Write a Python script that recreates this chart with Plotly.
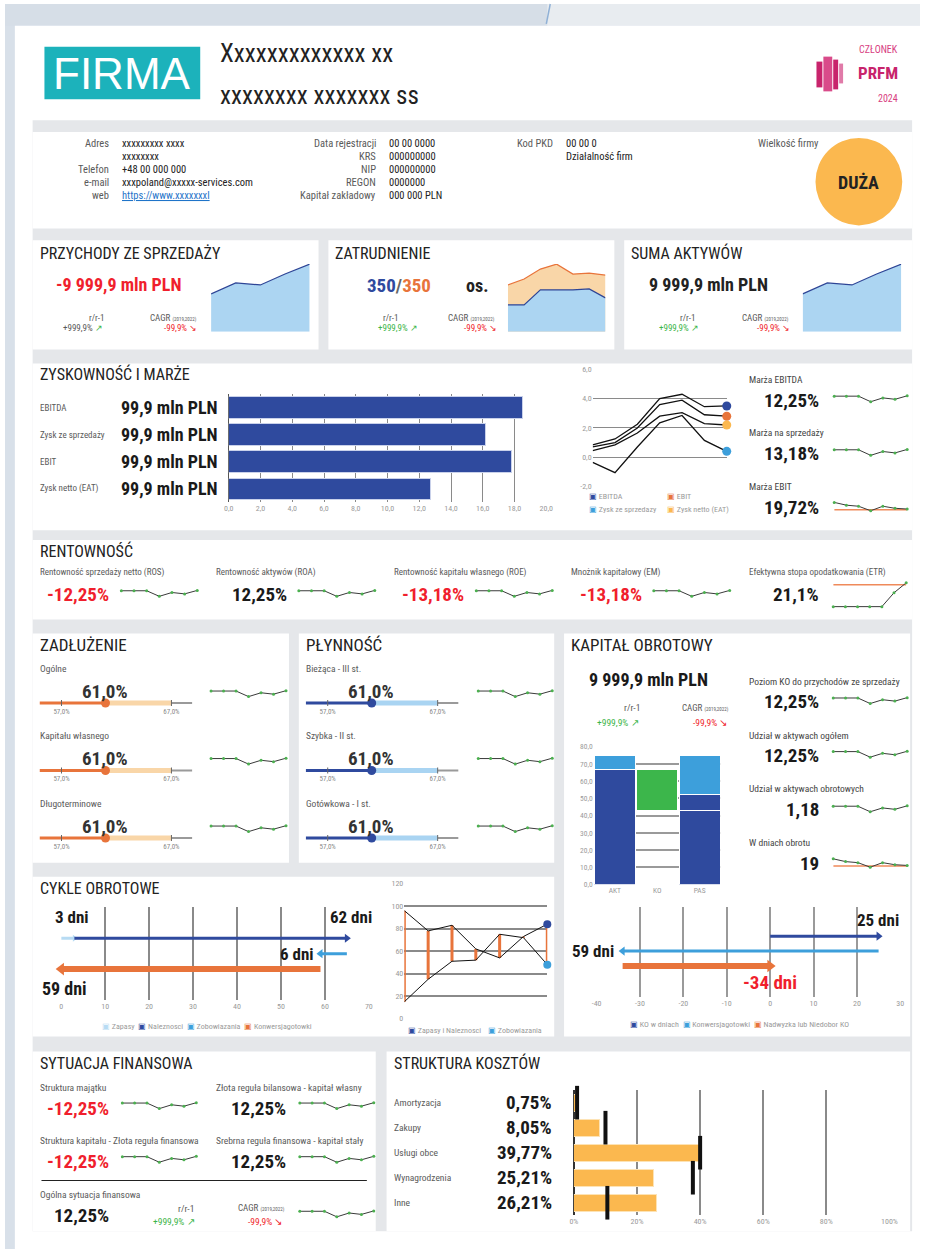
import plotly.graph_objects as go

# ---------------- data ----------------
company_name = "Xxxxxxxxxxxxx xx"
company_sub = "xxxxxxxx xxxxxxx ss"
info1_labels = ["Adres", "", "Telefon", "e-mail", "web"]
info1_values = ["xxxxxxxxx xxxx", "xxxxxxxx", "+48 00 000 000", "xxxpoland@xxxxx-services.com", "https://www.xxxxxxxl"]
info2_labels = ["Data rejestracji", "KRS", "NIP", "REGON", "Kapitał zakładowy"]
info2_values = ["00 00 0000", "000000000", "000000000", "0000000", "000 000 PLN"]
pkd_code = "00 00 0"
pkd_name = "Działalność firm"
company_size = "DUŻA"

revenue_trend = [38, 49, 47, 58, 68]
assets_trend = [38, 49, 47, 58, 68]
employment_total = [47, 53, 63, 68, 58, 59, 57]
employment_part = [27, 27, 42, 42, 42, 43, 34]

profit_categories = ["EBITDA", "Zysk ze sprzedaży", "EBIT", "Zysk netto (EAT)"]
profit_values = [18.5, 16.2, 17.8, 12.7]
profit_text = ["99,9 mln PLN", "99,9 mln PLN", "99,9 mln PLN", "99,9 mln PLN"]
profit_ticks = [0, 2, 4, 6, 8, 10, 12, 14, 16, 18, 20]

line_ebitda = [0.85, 1.25, 2.25, 4.0, 4.3, 3.45, 3.5]
line_ebit = [0.7, 1.0, 2.0, 3.6, 3.9, 2.9, 2.8]
line_eat = [0.45, 0.85, 1.65, 2.8, 3.05, 2.3, 2.2]
line_sales = [-0.35, -1.05, 0.7, 2.35, 2.85, 1.15, 0.4]
line_ticks = [-2, 0, 2, 4, 6]

margin_labels = ["Marża EBITDA", "Marża na sprzedaży", "Marża EBIT"]
margin_values = ["12,25%", "13,18%", "19,72%"]
spark_trend = [5.0, 5.0, 5.0, 3.4, 4.5, 4.1, 5.1]
ebit_trend = [7.0, 6.2, 5.9, 4.6, 5.9, 5.3, 5.1]
ebit_ref = 4.9

rent_labels = ["Rentowność sprzedaży netto (ROS)", "Rentowność aktywów (ROA)",
               "Rentowność kapitału własnego (ROE)", "Mnożnik kapitałowy (EM)",
               "Efektywna stopa opodatkowania (ETR)"]
rent_values = ["-12,25%", "12,25%", "-13,18%", "-13,18%", "21,1%"]
rent_negative = [True, False, True, True, False]
etr_trend = [0, 0, 0, 0, 0, 14, 24]
etr_ref = 22

debt_labels = ["Ogólne", "Kapitału własnego", "Długoterminowe"]
liq_labels = ["Bieżąca - III st.", "Szybka - II st.", "Gotówkowa - I st."]
bullet_values = [61.0, 61.0, 61.0]
bullet_low, bullet_high = 57.0, 67.0
bullet_min, bullet_max = 55.0, 68.9

wc_categories = ["AKT", "KO", "PAS"]
wc_offset = [0, 43, 0]
wc_dark = [67, 0, 43]
wc_dark2 = [0, 0, 9]
wc_green = [0, 24, 0]
wc_light = [8, 0, 23]
wc_ticks = [0, 10, 20, 30, 40, 50, 60, 70, 80]
wc_side_labels = ["Poziom KO do przychodów ze sprzedaży", "Udział w aktywach ogółem",
                  "Udział w aktywach obrotowych", "W dniach obrotu"]
wc_side_values = ["12,25%", "12,25%", "1,18", "19"]

inventory_days = 3
receivable_days = 62
payable_days = 6
conversion_days = 59
cycle_ticks = [0, 10, 20, 30, 40, 50, 60, 70]

cycle_assets = [96, 78, 83, 62, 54, 73, 84]
cycle_payables = [15, 35, 51, 52, 75, 72, 48]

ko_days = 25
ko_conversion = 59
ko_surplus = -34
ko_ticks = [-40, -30, -20, -10, 0, 10, 20, 30]

fin_labels = ["Struktura majątku", "Złota reguła bilansowa - kapitał własny",
              "Struktura kapitału - Złota reguła finansowa", "Srebrna reguła finansowa - kapitał stały"]
fin_values = ["-12,25%", "12,25%", "-12,25%", "12,25%"]
fin_negative = [True, False, True, False]

cost_categories = ["Amortyzacja", "Zakupy", "Usługi obce", "Wynagrodzenia", "Inne"]
cost_values = [0.75, 8.05, 39.77, 25.21, 26.21]
cost_targets = [1.0, 10.0, 40.0, 37.7, 10.6]
cost_ticks = [0, 20, 40, 60, 80, 100]

# ---------------- styling ----------------
W, H = 928, 1254
FONT = "Roboto Condensed, Liberation Sans Narrow, Arial Narrow, Roboto, sans-serif"
TITLE = 16
DARK_BLUE = "#2f4a9e"
LIGHT_BLUE = "#3d9fdb"
PALE_BLUE = "#b7dbf3"
AREA_BLUE = "#acd5f2"
ORANGE = "#e8743b"
PEACH = "#f9d6a8"
YELLOW = "#fbb84f"
GREEN = "#3db54a"
RED = "#f01f2d"
GREY_TXT = "#5a5a5a"
TICK_TXT = "#9a9a9a"
PANEL_GREY = "#e5e7ea"

fig = go.Figure()
shapes, annos, lay = [], [], {}
n_ax = [0]


def X(p):
    return p / W


def Y(p):
    return 1 - p / H


def rect(x0, y0, x1, y1, color, kind="rect"):
    shapes.append(dict(type=kind, xref="paper", yref="paper", x0=X(x0), x1=X(x1),
                       y0=Y(y1), y1=Y(y0), fillcolor=color, line=dict(width=0), layer="below"))


def pline(x0, y0, x1, y1, color, width=1):
    shapes.append(dict(type="line", xref="paper", yref="paper", x0=X(x0), x1=X(x1),
                       y0=Y(y0), y1=Y(y1), line=dict(color=color, width=width)))


def txt(x, y, s, size=10, color="#222", bold=False, anchor="left", yref="paper"):
    if bold:
        s = "<b>" + s + "</b>"
    annos.append(dict(xref="paper", yref=yref, x=X(x), y=(Y(y) if yref == "paper" else y),
                      text=s, showarrow=False, xanchor=anchor, yanchor="middle",
                      font=dict(size=size, color=color, family=FONT)))


def new_axes(x0, y0, x1, y1, xr, yr, xkw=None, ykw=None):
    n_ax[0] += 1
    s = "" if n_ax[0] == 1 else str(n_ax[0])
    base = dict(showgrid=False, zeroline=False, showticklabels=False, showline=False,
                ticks="", fixedrange=True, tickfont=dict(size=8, color=TICK_TXT, family=FONT))
    xa = dict(base, domain=[X(x0), X(x1)], range=xr, anchor="y" + s)
    ya = dict(base, domain=[Y(y1), Y(y0)], range=yr, anchor="x" + s)
    if xkw:
        xa.update(xkw)
    if ykw:
        ya.update(ykw)
    lay["xaxis" + s] = xa
    lay["yaxis" + s] = ya
    return "x" + s, "y" + s


def spark(x0, x1, yc, values, ref=None, ppu=3.5, half=9):
    c = values[0]
    xa, ya = new_axes(x0, yc - half, x1, yc + half, [0, len(values) - 1],
                      [c - half / ppu, c + half / ppu])
    if ref is not None:
        fig.add_trace(go.Scatter(x=[0, len(values) - 1], y=[ref, ref], xaxis=xa, yaxis=ya,
                                 mode="lines", line=dict(color="#ef8a5a", width=1.5),
                                 cliponaxis=False, hoverinfo="skip"))
    fig.add_trace(go.Scatter(x=list(range(len(values))), y=values, xaxis=xa, yaxis=ya,
                             mode="lines+markers", line=dict(color="#3a3a3a", width=1),
                             marker=dict(size=3, color="#4cb050"), cliponaxis=False,
                             hoverinfo="skip"))


def fmt(v, d=1):
    return f"{v:.{d}f}".replace(".", ",")


def cagr(x, y, anchor="left"):
    txt(x, y, 'CAGR <span style="font-size:5px">(2019,2022)</span>', 9, GREY_TXT, anchor=anchor)


# ---------------- page background ----------------
rect(0, 0, 928, 1254, "#d8e0e9")
rect(0, 0, 550, 22, "#d6dee7")
rect(550, 0, 928, 22, "#e8ecf0")
rect(10, 22, 928, 1254, "#ffffff")
pline(553, 0, 549, 20, "#8fb0d6", 1.5)
rect(28, 117, 920, 1236, PANEL_GREY)
rect(28, 129, 920, 226, "#ffffff")
for a, b in [(28, 318), (328, 618), (628, 920)]:
    rect(a, 238, b, 348, "#ffffff")
rect(28, 362, 920, 530, "#ffffff")
rect(28, 540, 920, 620, "#ffffff")
rect(28, 634, 288, 865, "#ffffff")
rect(298, 634, 557, 865, "#ffffff")
rect(567, 634, 918, 1040, "#ffffff")
rect(28, 879, 557, 1040, "#ffffff")
rect(28, 1055, 376, 1236, "#ffffff")
rect(387, 1055, 918, 1236, "#ffffff")

# ---------------- header ----------------
rect(40, 43, 198, 96, "#1cb2bb")
annos.append(dict(xref="paper", yref="paper", x=X(119), y=Y(70), text="FIRMA", showarrow=False,
                  xanchor="center", yanchor="middle",
                  font=dict(size=44, color="#ffffff", family="Liberation Sans, Arial, sans-serif")))
txt(216, 50, company_name, 25, "#222")
txt(216, 92, company_sub, 25, "#222")
txt(908, 46, "CZŁONEK", 10, "#d8407f", anchor="right")
txt(908, 70, "PRFM", 17, "#c8246c", bold=True, anchor="right")
txt(908, 95, "2024", 10, "#d8407f", anchor="right")
rect(823, 58, 829, 84, "#c8246c")
rect(830, 53, 839, 88, "#d94b8a")
rect(840, 56, 845, 86, "#c8246c")
rect(846, 60, 850, 80, "#e07aa8")

# ---------------- info ----------------
for i in range(5):
    y = 141 + 13 * i
    if info1_labels[i]:
        txt(108, y, info1_labels[i], 10.5, GREY_TXT, anchor="right")
    val = info1_values[i]
    if i == 4:
        val = '<span style="text-decoration:underline">' + val + '</span>'
        txt(117, y, val, 10.5, "#1f74c9")
    else:
        txt(117, y, val, 10.5, "#222")
    txt(378, y, info2_labels[i], 10.5, GREY_TXT, anchor="right")
    txt(387, y, info2_values[i], 10.5, "#222")
txt(558, 141, "Kod PKD", 10.5, GREY_TXT, anchor="right")
txt(567, 141, pkd_code, 10.5, "#222")
txt(567, 154, pkd_name, 10.5, "#222")
txt(828, 141, "Wielkość firmy", 10.5, GREY_TXT, anchor="right")
rect(822, 135, 910, 223, YELLOW, kind="circle")
txt(866, 180, company_size, 18, "#222", bold=True, anchor="center")

# ---------------- KPI panels ----------------
txt(33, 251, "PRZYCHODY ZE SPRZEDAŻY", TITLE)
txt(333, 251, "ZATRUDNIENIE", TITLE)
txt(633, 251, "SUMA AKTYWÓW", TITLE)

txt(115, 283, "-9 999,9 mln PLN", 18, RED, bold=True, anchor="center")
txt(103, 316, "r/r-1", 9, GREY_TXT, anchor="right")
txt(101, 326, '+999,9% <span style="color:#3db54a">↗</span>', 9, GREY_TXT, anchor="right")
cagr(145, 316)
txt(197, 326, "-99,9% ↘", 9, RED, anchor="right")

txt(400, 284, '<span style="color:#2f4a9e">350</span><span style="color:#666">/</span>'
              '<span style="color:#e8743b">350</span>', 19, bold=True, anchor="center")
txt(466, 284, "os.", 18, "#222", bold=True)
txt(402, 316, "r/r-1", 9, GREY_TXT, anchor="right")
txt(421, 326, "+999,9% ↗", 9, GREEN, anchor="right")
cagr(447, 316)
txt(501, 326, "-99,9% ↘", 9, RED, anchor="right")

txt(713, 283, "9 999,9 mln PLN", 18, "#222", bold=True, anchor="center")
txt(703, 316, "r/r-1", 9, GREY_TXT, anchor="right")
txt(706, 326, "+999,9% ↗", 9, GREEN, anchor="right")
cagr(745, 316)
txt(798, 326, "-99,9% ↘", 9, RED, anchor="right")

for (x0, x1, data) in [(209, 309, revenue_trend), (809, 909, assets_trend)]:
    xa, ya = new_axes(x0, 262, x1, 330, [0, len(data) - 1], [0, 68])
    fig.add_trace(go.Scatter(x=list(range(len(data))), y=data, xaxis=xa, yaxis=ya, mode="lines",
                             fill="tozeroy", fillcolor=AREA_BLUE,
                             line=dict(color="#2e4596", width=1.2), hoverinfo="skip"))

xa, ya = new_axes(510, 262, 609, 330, [0, len(employment_total) - 1], [0, 68])
fig.add_trace(go.Scatter(x=list(range(7)), y=employment_total, xaxis=xa, yaxis=ya, mode="lines",
                         fill="tozeroy", fillcolor=PEACH, line=dict(color=ORANGE, width=1.2),
                         hoverinfo="skip"))
fig.add_trace(go.Scatter(x=list(range(7)), y=employment_part, xaxis=xa, yaxis=ya, mode="lines",
                         fill="tozeroy", fillcolor=AREA_BLUE, line=dict(color="#2e4596", width=1.2),
                         hoverinfo="skip"))

# ---------------- Zyskowność ----------------
txt(33, 373, "ZYSKOWNOŚĆ I MARŻE", TITLE)
xa, ya = new_axes(227, 393, 549, 502, [0, 20], [3.5, -0.5],
                  xkw=dict(showgrid=True, gridcolor="#8a8a8a", gridwidth=1, tickvals=profit_ticks,
                           ticktext=[fmt(v) for v in profit_ticks], showticklabels=True,
                           zeroline=True, zerolinecolor="#555", zerolinewidth=1),
                  ykw=dict(type="category", categoryorder="array", categoryarray=profit_categories))
fig.add_trace(go.Bar(x=profit_values, y=profit_categories, orientation="h", xaxis=xa, yaxis=ya,
                     width=0.8, marker=dict(color=DARK_BLUE, line=dict(color="#c9d1ea", width=1)),
                     hoverinfo="skip"))
for cat, lab in zip(profit_categories, profit_text):
    txt(33, cat, cat, 9, GREY_TXT, yref=ya)
    txt(218, cat, lab, 18, "#1a1a1a", bold=True, anchor="right", yref=ya)

xa, ya = new_axes(596, 368, 732, 486, [0, 6], [-2, 6],
                  ykw=dict(showgrid=True, gridcolor="#8a8a8a", gridwidth=1, tickvals=line_ticks,
                           ticktext=[fmt(v) for v in line_ticks], showticklabels=True))
line_sets = [(line_ebitda, DARK_BLUE), (line_ebit, ORANGE), (line_eat, YELLOW), (line_sales, LIGHT_BLUE)]
for vals, col in line_sets:
    fig.add_trace(go.Scatter(x=list(range(7)), y=vals, xaxis=xa, yaxis=ya, mode="lines",
                             line=dict(color="#111", width=1.3), hoverinfo="skip"))
for vals, col in line_sets:
    fig.add_trace(go.Scatter(x=[6], y=[vals[-1]], xaxis=xa, yaxis=ya, mode="markers",
                             marker=dict(size=9, color=col), cliponaxis=False, hoverinfo="skip"))


def leg(x, y, label, col):
    txt(x, y, f'<span style="color:{col}">▣</span> {label}', 8, TICK_TXT)


leg(590, 496, "EBITDA", DARK_BLUE)
leg(669, 496, "EBIT", ORANGE)
leg(590, 509, "Zysk ze sprzedazy", LIGHT_BLUE)
leg(669, 509, "Zysk netto (EAT)", YELLOW)

for i, (lab, val) in enumerate(zip(margin_labels, margin_values)):
    yl = 378 + 54 * i
    txt(753, yl, lab, 9.5, "#444")
    txt(828, yl + 21, val, 19, "#1a1a1a", bold=True, anchor="right")
spark(841, 915, 395, spark_trend)
spark(841, 915, 449, spark_trend)
spark(841, 915, 502, ebit_trend, ref=ebit_ref)

# ---------------- Rentowność ----------------
txt(33, 551, "RENTOWNOŚĆ", TITLE)
rent_lx = [33, 212, 392, 572, 753]
rent_vx = [108, 288, 468, 648, 828]
rent_sx = [(118, 195), (298, 375), (478, 555), (658, 735)]
for i in range(5):
    txt(rent_lx[i], 573, rent_labels[i], 9, GREY_TXT)
    txt(rent_vx[i], 595, rent_values[i], 19, RED if rent_negative[i] else "#1a1a1a",
        bold=True, anchor="right")
for a, b in rent_sx:
    spark(a, b, 591, spark_trend)
spark(840, 914, 607, etr_trend, ref=etr_ref, ppu=1.0, half=26)

# ---------------- Zadłużenie / Płynność ----------------
txt(33, 646, "ZADŁUŻENIE", TITLE + 1)
txt(303, 646, "PŁYNNOŚĆ", TITLE + 1)
groups = [(0, debt_labels, ORANGE, PEACH, 209, 285), (270, liq_labels, DARK_BLUE, "#a9d4f2", 480, 555)]
for off, labels, dark, light, sx0, sx1 in groups:
    for i, lab in enumerate(labels):
        ly = 669 + 68 * i
        by = 704 + 68 * i
        v = bullet_values[i]
        txt(33 + off, ly, lab, 9.5, GREY_TXT)
        txt(101 + off, ly + 23, fmt(v) + "%", 19, "#333", bold=True, anchor="center")
        xa, ya = new_axes(35 + off, by - 3, 190 + off, by + 3, [bullet_min, bullet_max], [-1, 1],
                          xkw=dict(showticklabels=True, tickvals=[bullet_low, bullet_high],
                                   ticktext=[fmt(bullet_low) + "%", fmt(bullet_high) + "%"],
                                   tickfont=dict(size=7, color="#888", family=FONT)))
        fig.add_trace(go.Scatter(x=[bullet_high, bullet_max], y=[0, 0], xaxis=xa, yaxis=ya, mode="lines",
                                 line=dict(color="#9a9a9a", width=2), cliponaxis=False, hoverinfo="skip"))
        fig.add_trace(go.Scatter(x=[v, bullet_high], y=[0, 0], xaxis=xa, yaxis=ya, mode="lines",
                                 line=dict(color=light, width=5), cliponaxis=False, hoverinfo="skip"))
        fig.add_trace(go.Scatter(x=[bullet_min, v], y=[0, 0], xaxis=xa, yaxis=ya, mode="lines",
                                 line=dict(color=dark, width=3), cliponaxis=False, hoverinfo="skip"))
        fig.add_trace(go.Scatter(x=[bullet_low, bullet_low, None, bullet_high, bullet_high],
                                 y=[-1.6, 1.6, None, -1.6, 1.6], xaxis=xa, yaxis=ya, mode="lines",
                                 line=dict(color="#666", width=1), cliponaxis=False, hoverinfo="skip"))
        fig.add_trace(go.Scatter(x=[v], y=[0], xaxis=xa, yaxis=ya, mode="markers",
                                 marker=dict(size=9, color=dark), cliponaxis=False, hoverinfo="skip"))
        spark(sx0, sx1, 692 + 68 * i, spark_trend)

# ---------------- Kapitał obrotowy ----------------
txt(572, 646, "KAPITAŁ OBROTOWY", TITLE + 1)
txt(653, 680, "9 999,9 mln PLN", 18, "#1a1a1a", bold=True, anchor="center")
txt(636, 709, "r/r-1", 9.5, GREY_TXT, anchor="center")
txt(622, 724, "+999,9% ↗", 9.5, GREEN, anchor="center")
cagr(710, 709, anchor="center")
txt(716, 724, "-99,9% ↘", 9.5, RED, anchor="center")

xa, ya = new_axes(597, 748, 726, 887, [-0.5, 2.5], [0, 80],
                  xkw=dict(showticklabels=True, type="category", tickfont=dict(size=7.5, color=TICK_TXT, family=FONT)),
                  ykw=dict(showgrid=True, gridcolor="#9a9a9a", gridwidth=2, tickvals=wc_ticks,
                           ticktext=[fmt(v) for v in wc_ticks], showticklabels=True,
                           tickfont=dict(size=7.5, color=TICK_TXT, family=FONT)))
for vals, col in [(wc_offset, "rgba(0,0,0,0)"), (wc_dark, DARK_BLUE), (wc_dark2, DARK_BLUE),
                  (wc_green, "#3cb64b"), (wc_light, LIGHT_BLUE)]:
    fig.add_trace(go.Bar(x=wc_categories, y=vals, xaxis=xa, yaxis=ya, width=0.97,
                         marker=dict(color=col, line=dict(color="rgba(255,255,255,%s)" % ("0" if col.startswith("rgba") else "1"), width=1)),
                         hoverinfo="skip"))
for i, (lab, val) in enumerate(zip(wc_side_labels, wc_side_values)):
    yl = 682 + 54.3 * i
    txt(753, yl, lab, 9.5, "#444")
    txt(828, yl + 21, val, 19, "#1a1a1a", bold=True, anchor="right")
spark(840, 915, 699, spark_trend)
spark(840, 915, 753, spark_trend)
spark(840, 915, 808, spark_trend)
spark(840, 915, 861, ebit_trend, ref=ebit_ref)

# KO in days
xa, ya = new_axes(600, 910, 908, 1000, [-40, 30], [-1.07, 4.93],
                  xkw=dict(showgrid=True, gridcolor="#9a9a9a", gridwidth=2, tickvals=ko_ticks,
                           ticktext=[str(v) for v in ko_ticks], showticklabels=True))


def arrow(xa, ya, x0, x1, lane, col, width, head):
    sym = "triangle-right" if x1 > x0 else "triangle-left"
    fig.add_trace(go.Scatter(x=[x0, x1], y=[lane, lane], xaxis=xa, yaxis=ya, mode="lines",
                             line=dict(color=col, width=width), cliponaxis=False, hoverinfo="skip"))
    fig.add_trace(go.Scatter(x=[x1], y=[lane], xaxis=xa, yaxis=ya, mode="markers",
                             marker=dict(symbol=sym, size=head, color=col), cliponaxis=False,
                             hoverinfo="skip"))


arrow(xa, ya, 0, ko_days, 3, DARK_BLUE, 3, 8)
arrow(xa, ya, ko_days, ko_days - ko_conversion, 2, LIGHT_BLUE, 3, 8)
arrow(xa, ya, ko_surplus, 0, 1, ORANGE, 6, 11)
txt(885, 923, f"{ko_days} dni", 17, "#1a1a1a", bold=True, anchor="center")
txt(620, 954, f"{ko_conversion} dni", 17, "#1a1a1a", bold=True, anchor="right")
txt(776, 986, f"{ko_surplus} dni", 19, RED, bold=True, anchor="center")
txt(745, 1028, f'<span style="color:{DARK_BLUE}">▣</span> KO w dniach  '
               f'<span style="color:{LIGHT_BLUE}">▣</span> Konwersjagotowki  '
               f'<span style="color:{ORANGE}">▣</span> Nadwyzka lub Niedobor KO', 8, TICK_TXT, anchor="center")

# ---------------- Cykle obrotowe ----------------
txt(33, 891, "CYKLE OBROTOWE", TITLE)
xa, ya = new_axes(57, 910, 369, 1003, [0, 70], [-1, 5],
                  xkw=dict(showgrid=True, gridcolor="#8a8a8a", gridwidth=1.5, tickvals=cycle_ticks,
                           ticktext=[str(v) for v in cycle_ticks], showticklabels=True))
arrow(xa, ya, 0, inventory_days, 3, PALE_BLUE, 3, 0)
arrow(xa, ya, inventory_days, inventory_days + receivable_days, 3, DARK_BLUE, 3, 8)
arrow(xa, ya, inventory_days + receivable_days, inventory_days + receivable_days - payable_days, 2,
      LIGHT_BLUE, 3, 8)
arrow(xa, ya, conversion_days, 0, 1, ORANGE, 6, 11)
txt(49, 920, f"{inventory_days} dni", 17, "#1a1a1a", bold=True)
txt(374, 920, f"{receivable_days} dni", 17, "#1a1a1a", bold=True, anchor="right")
txt(315, 957, f"{payable_days} dni", 17, "#1a1a1a", bold=True, anchor="right")
txt(36, 992, f"{conversion_days} dni", 18, "#1a1a1a", bold=True)
txt(205, 1030, f'<span style="color:{PALE_BLUE}">▣</span> Zapasy  '
               f'<span style="color:{DARK_BLUE}">▣</span> Naleznosci  '
               f'<span style="color:{LIGHT_BLUE}">▣</span> Zobowiazania  '
               f'<span style="color:{ORANGE}">▣</span> Konwersjagotowki', 8, TICK_TXT, anchor="center")

xa, ya = new_axes(405, 886, 550, 1022, [0, 6], [0, 120],
                  ykw=dict(showgrid=True, gridcolor="#8a8a8a", gridwidth=1.5,
                           tickvals=[0, 20, 40, 60, 80, 100, 120], showticklabels=True))
hx, hy = [], []
for i, (a, b) in enumerate(zip(cycle_assets, cycle_payables)):
    hx += [i, i, None]
    hy += [a, b, None]
fig.add_trace(go.Scatter(x=hx, y=hy, xaxis=xa, yaxis=ya, mode="lines",
                         line=dict(color=ORANGE, width=3), cliponaxis=False, hoverinfo="skip"))
for vals, col in [(cycle_assets, DARK_BLUE), (cycle_payables, LIGHT_BLUE)]:
    fig.add_trace(go.Scatter(x=list(range(7)), y=vals, xaxis=xa, yaxis=ya, mode="lines",
                             line=dict(color="#111", width=1), cliponaxis=False, hoverinfo="skip"))
    fig.add_trace(go.Scatter(x=[6], y=[vals[-1]], xaxis=xa, yaxis=ya, mode="markers",
                             marker=dict(size=8, color=col), cliponaxis=False, hoverinfo="skip"))
txt(407, 1034, f'<span style="color:{DARK_BLUE}">▣</span> Zapasy i Naleznosci', 8, TICK_TXT)
txt(488, 1034, f'<span style="color:{LIGHT_BLUE}">▣</span> Zobowiazania', 8, TICK_TXT)

# ---------------- Sytuacja finansowa ----------------
txt(33, 1067, "SYTUACJA FINANSOWA", TITLE)
fin_pos = [(33, 107, 119, 194, 1091), (212, 287, 299, 374, 1091),
           (33, 107, 119, 194, 1145), (212, 287, 299, 374, 1145)]
for (lx, vx, sx0, sx1, ly), lab, val, neg in zip(fin_pos, fin_labels, fin_values, fin_negative):
    txt(lx, ly, lab, 9.5, GREY_TXT)
    txt(vx, ly + 21, val, 19, RED if neg else "#1a1a1a", bold=True, anchor="right")
    spark(sx0, sx1, ly + 16, spark_trend)
pline(37, 1185, 367, 1185, "#222", 1.2)
txt(33, 1199, "Ogólna sytuacja finansowa", 9.5, GREY_TXT)
txt(107, 1220, "12,25%", 19, "#1a1a1a", bold=True, anchor="right")
txt(194, 1213, "r/r-1", 9.5, GREY_TXT, anchor="right")
txt(195, 1226, "+999,9% ↗", 9.5, GREEN, anchor="right")
cagr(234, 1213)
txt(284, 1226, "-99,9% ↘", 9.5, RED, anchor="right")
spark(299, 374, 1216, spark_trend)

# ---------------- Struktura kosztów ----------------
txt(393, 1067, "STRUKTURA KOSZTÓW", TITLE)
xa, ya = new_axes(577, 1094, 897, 1220, [0, 100], [4.5, -0.5],
                  xkw=dict(showgrid=True, gridcolor="#8a8a8a", gridwidth=1.5, tickvals=cost_ticks,
                           ticktext=[f"{v}%" for v in cost_ticks], showticklabels=True,
                           zeroline=True, zerolinecolor="#333", zerolinewidth=1.5),
                  ykw=dict(type="category", categoryorder="array", categoryarray=cost_categories))
fig.add_trace(go.Bar(x=cost_values, y=cost_categories, orientation="h", xaxis=xa, yaxis=ya,
                     width=0.68, marker=dict(color=YELLOW, line=dict(color="#fde3b5", width=1)),
                     hoverinfo="skip"))
fig.add_trace(go.Scatter(x=cost_targets, y=cost_categories, xaxis=xa, yaxis=ya, mode="markers",
                         marker=dict(symbol="line-ns", size=24, line=dict(width=4, color="#111")),
                         cliponaxis=False, hoverinfo="skip"))
for cat, v in zip(cost_categories, cost_values):
    txt(393, cat, cat, 9.5, GREY_TXT, yref=ya)
    txt(557, cat, fmt(v, 2) + "%", 19, "#1a1a1a", bold=True, anchor="right", yref=ya)

fig.update_layout(
    width=W, height=H, margin=dict(l=0, r=0, t=0, b=0),
    paper_bgcolor="#ffffff", plot_bgcolor="rgba(0,0,0,0)",
    showlegend=False, barmode="stack", bargap=0.03,
    font=dict(family=FONT, size=9, color="#333"),
    shapes=shapes, annotations=annos, **lay
)
fig.write_html("out.html", config={"displayModeBar": False},
               post_script="document.body.style.margin='0px';")
